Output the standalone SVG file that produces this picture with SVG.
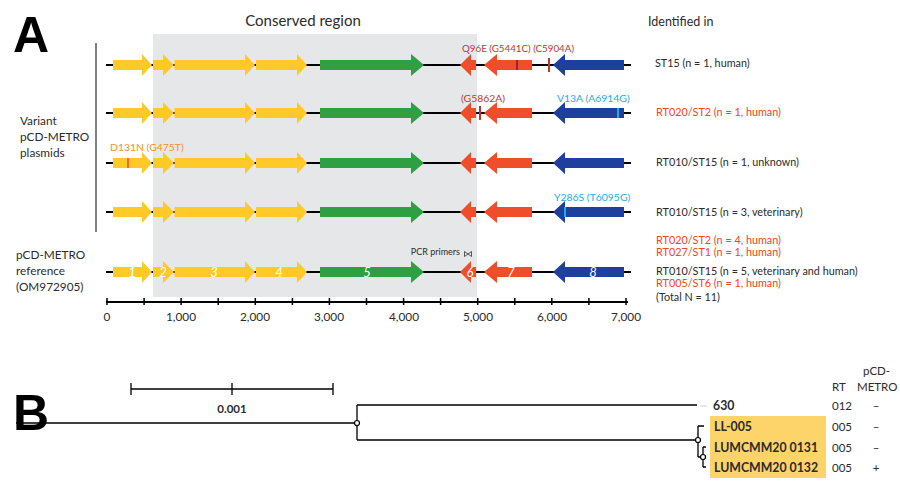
<svg xmlns="http://www.w3.org/2000/svg" width="900" height="482" viewBox="0 0 900 482">
<style>
text{font-family:Lato,"Open Sans","Liberation Sans",sans-serif;fill:#2b2b2b}
.big{font-family:"Liberation Sans",Arial,sans-serif;font-weight:bold;font-size:50px;fill:#000}
.lbl{font-size:11.8px}
.id{font-size:10.8px}
.mut{font-size:10.4px}
.red{fill:#ef4426}
.dred{fill:#c4342c}
.cy{fill:#19aee6}
.or{fill:#f7902a}
.ax{font-size:11.8px}
.num{font-size:13px;font-style:italic;fill:#fff;text-anchor:middle}
.yl{fill:#ffc928}
.gr{fill:#2ea043}
.rd{fill:#f04e2b}
.bl{fill:#1e3f9e}
.bb{stroke:#000;stroke-width:2.2}
.tr{stroke:#000;stroke-width:1.3;fill:none}
.tip{stroke:#cfcfcf;stroke-width:1}
.tl{font-size:12.3px;font-weight:bold}
.sc{font-size:11.5px;font-weight:bold}
.tc{font-size:11.5px}
</style>
<defs>
<g id="genes">
<line class="bb" x1="106" y1="0" x2="631" y2="0"/>
<polygon class="yl" points="113,-5 142,-5 142,-11 152,0 142,11 142,5 113,5"/>
<polygon class="yl" points="153,-5 163,-5 163,-11 174,0 163,11 163,5 153,5"/>
<polygon class="yl" points="174.5,-5 245,-5 245,-11 255,0 245,11 245,5 174.5,5"/>
<polygon class="yl" points="256,-5 297,-5 297,-11 307,0 297,11 297,5 256,5"/>
<polygon class="gr" points="320,-5 411,-5 411,-11 424,0 411,11 411,5 320,5"/>
<polygon class="rd" points="476,-5 471,-5 471,-11 460,0 471,11 471,5 476,5"/>
<polygon class="rd" points="532,-5 497,-5 497,-11 484,0 497,11 497,5 532,5"/>
<polygon class="bl" points="624,-5 565,-5 565,-11 553,0 565,11 565,5 624,5"/>
</g>
</defs>
<rect x="153" y="34" width="324" height="263" fill="#e6e7e8"/>
<text class="big" x="13" y="52">A</text>
<text class="big" x="13" y="430">B</text>
<text x="303" y="26" text-anchor="middle" font-size="15">Conserved region</text>
<text x="648" y="26" font-size="12.5">Identified in</text>
<line x1="96" y1="43" x2="96" y2="232" stroke="#555" stroke-width="1.5"/>
<text class="lbl" x="20" y="125">Variant</text>
<text class="lbl" x="20" y="141">pCD-METRO</text>
<text class="lbl" x="20" y="157">plasmids</text>
<text class="lbl" x="16" y="259">pCD-METRO</text>
<text class="lbl" x="16" y="275">reference</text>
<text class="lbl" x="16" y="291">(OM972905)</text>
<g id="row1">
<use href="#genes" transform="translate(0,65)"/>
<line x1="517" y1="60" x2="517" y2="70" stroke="#a3202a" stroke-width="2"/>
<line x1="549" y1="58" x2="549" y2="72" stroke="#c4342c" stroke-width="2"/>
<text class="mut dred" x="462" y="52" textLength="112" lengthAdjust="spacingAndGlyphs">Q96E (G5441C) (C5904A)</text>
<text class="id" x="655" y="67">ST15 (n = 1, human)</text>
</g>
<g id="row2">
<use href="#genes" transform="translate(0,113)"/>
<line x1="480" y1="106" x2="480" y2="120" stroke="#c4342c" stroke-width="2"/>
<line x1="618" y1="108" x2="618" y2="118" stroke="#19aee6" stroke-width="2"/>
<text class="mut dred" x="461" y="102">(G5862A)</text>
<text class="mut cy" x="557" y="102">V13A (A6914G)</text>
<text class="id red" x="656" y="116">RT020/ST2 (n = 1, human)</text>
</g>
<g id="row3">
<use href="#genes" transform="translate(0,163)"/>
<line x1="128" y1="158" x2="128" y2="168" stroke="#f26a25" stroke-width="2"/>
<text class="mut or" x="110" y="151">D131N (G475T)</text>
<text class="id" x="656" y="166">RT010/ST15 (n = 1, unknown)</text>
</g>
<g id="row4">
<use href="#genes" transform="translate(0,212)"/>
<line x1="565" y1="207" x2="565" y2="217" stroke="#19aee6" stroke-width="2"/>
<text class="mut cy" x="554" y="201">Y286S (T6095G)</text>
<text class="id" x="656" y="216">RT010/ST15 (n = 3,  veterinary)</text>
</g>
<g id="reference">
<use href="#genes" transform="translate(0,272)"/>
<text class="num" x="132" y="277">1</text>
<text class="num" x="163" y="277">2</text>
<text class="num" x="214" y="277">3</text>
<text class="num" x="279" y="277">4</text>
<text class="num" x="367" y="277">5</text>
<text class="num" x="470" y="277">6</text>
<text class="num" x="511" y="277">7</text>
<text class="num" x="593" y="277">8</text>
<text x="460" y="255" font-size="9" text-anchor="end">PCR primers</text>
<polygon points="464.5,251.5 468,254 464.5,256.5" fill="none" stroke="#444" stroke-width="0.9"/>
<polygon points="471.5,251.5 468,254 471.5,256.5" fill="none" stroke="#444" stroke-width="0.9"/>
<text class="id red" x="656" y="244">RT020/ST2 (n = 4, human)</text>
<text class="id red" x="656" y="256">RT027/ST1 (n = 1, human)</text>
<text class="id" x="656" y="275">RT010/ST15 (n = 5, veterinary and human)</text>
<text class="id red" x="656" y="287">RT005/ST6 (n = 1, human)</text>
<text class="id" x="656" y="301">(Total N = 11)</text>
</g>
<g id="axis">
<line x1="106" y1="302" x2="628" y2="302" stroke="#000" stroke-width="2"/>
<path d="M107,298V305M144.1,298V305M181.1,298V305M218.2,298V305M255.3,298V305M292.4,298V305M329.4,298V305M366.5,298V305M403.6,298V305M440.6,298V305M477.7,298V305M514.8,298V305M551.8,298V305M588.9,298V305M626,298V305" stroke="#000" stroke-width="1.5"/>
<g text-anchor="middle">
<text class="ax" x="107" y="321">0</text>
<text class="ax" x="181" y="321">1,000</text>
<text class="ax" x="255" y="321">2,000</text>
<text class="ax" x="329" y="321">3,000</text>
<text class="ax" x="404" y="321">4,000</text>
<text class="ax" x="478" y="321">5,000</text>
<text class="ax" x="552" y="321">6,000</text>
<text class="ax" x="626" y="321">7,000</text>
</g>
</g>
<g id="scalebar">
<path d="M131,389H333M131,383V395M232,383V395M333,383V395" class="tr"/>
<text class="sc" x="232" y="413" text-anchor="middle">0.001</text>
</g>
<rect x="710" y="416" width="116" height="62" fill="#fdd46a"/>
<g id="tree">
<path class="tr" d="M16,423H357M357,405V440M357,405H697M357,440H698M698,426V457M698,426H704M698,457H703M703,447V467M703,447H706M703,467H706"/>
<line class="tip" x1="700" y1="406" x2="707" y2="406"/>
<circle cx="357" cy="423" r="2.5" fill="#fff" stroke="#000" stroke-width="1.2"/>
<circle cx="698" cy="440" r="2.5" fill="#fff" stroke="#000" stroke-width="1.2"/>
<circle cx="703" cy="457" r="2.5" fill="#fff" stroke="#000" stroke-width="1.2"/>
</g>
<g id="leaves">
<text class="tl" x="713" y="410">630</text>
<text class="tl" x="714" y="431">LL-005</text>
<text class="tl" x="714" y="452">LUMCMM20 0131</text>
<text class="tl" x="714" y="472">LUMCMM20 0132</text>
</g>
<g id="table">
<text class="tc" x="863" y="375">pCD-</text>
<text class="tc" x="832" y="391">RT</text>
<text class="tc" x="857" y="391">METRO</text>
<text class="tc" x="832" y="410">012</text>
<text class="tc" x="832" y="431">005</text>
<text class="tc" x="832" y="452">005</text>
<text class="tc" x="832" y="472">005</text>
<text class="tc" x="876" y="410" text-anchor="middle">–</text>
<text class="tc" x="876" y="431" text-anchor="middle">–</text>
<text class="tc" x="876" y="452" text-anchor="middle">–</text>
<text class="tc" x="876" y="472" text-anchor="middle">+</text>
</g>
</svg>
